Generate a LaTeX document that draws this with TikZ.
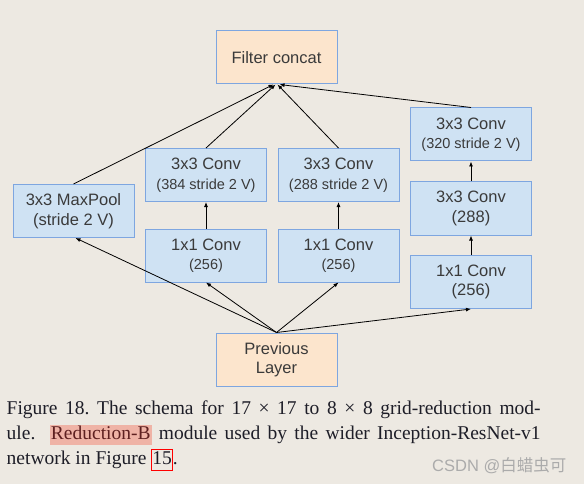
\documentclass[tikz,border=0pt]{standalone}
\usepackage{fontspec}
\setmainfont{Liberation Serif}
\newfontfamily\arialf{Liberation Sans}
\newfontfamily\cjkf{Noto Sans CJK SC}
\usetikzlibrary{arrows.meta}
\definecolor{bg}{HTML}{EDE9E2}
\definecolor{bluefill}{HTML}{CFE2F3}
\definecolor{blueline}{HTML}{7EA6E0}
\definecolor{orfill}{HTML}{FCE5CD}
\definecolor{boxtext}{HTML}{3A3A3A}
\definecolor{captext}{HTML}{1E1E28}
\definecolor{hl}{HTML}{EFB3A6}
\definecolor{hltext}{HTML}{5E2020}
\definecolor{wm}{HTML}{ABABAB}
\frenchspacing
\newcommand\subf{\fontsize{14.5}{17.5}\selectfont}
\newcommand\hlbox[1]{{\setlength\fboxsep{1pt}\colorbox{hl}{\textcolor{hltext}{\vphantom{y}#1}}}}
\newcommand\boxnum[1]{{\setlength\fboxsep{0pt}\setlength\fboxrule{1pt}\fcolorbox{red}{bg}{\rule[-6.3pt]{0pt}{20pt}#1}}}
\begin{document}
\begin{tikzpicture}[x=1pt,y=-1pt,
  box/.style={draw=blueline, line width=1pt, fill=bluefill, minimum width=121pt,
    minimum height=53pt, inner sep=0pt, align=center, text=boxtext,
    font=\arialf\fontsize{16.5}{19.5}\selectfont},
  obox/.style={box, fill=orfill},
  arr/.style={-{Latex[length=5pt,width=4pt]}, line width=0.8pt, black},
  capline/.style={anchor=base west, inner sep=0pt, text=captext,
    font=\fontsize{19.5}{24.8}\selectfont}
]
\fill[bg] (0,0) rectangle (584,484);
\useasboundingbox (0,0) rectangle (584,484);

\node[obox] (fc) at (276.5,57.5) {Filter concat};
\node[box] (mp) at (73.5,211) {3x3 MaxPool\\(stride 2 V)};
\node[box] (c384) at (206,175) {3x3 Conv\\\subf (384 stride 2 V)};
\node[box] (c1l) at (206,255.5) {1x1 Conv\\\subf (256)};
\node[box] (c288) at (338.5,175) {3x3 Conv\\\subf (288 stride 2 V)};
\node[box] (c1m) at (338.5,255.5) {1x1 Conv\\\subf (256)};
\node[box] (r3) at (471,134.5) {3x3 Conv\\\subf (320 stride 2 V)};
\node[box] (r2) at (471,208.5) {3x3 Conv\\(288)};
\node[box] (r1) at (471,282) {1x1 Conv\\(256)};
\node[obox] (prev) at (276.5,359.5) {Previous\\Layer};

\draw[arr] (mp.north) -- ([xshift=-3pt]fc.south);
\draw[arr] (c384.north) -- ([xshift=-1pt]fc.south);
\draw[arr] (c288.north) -- ([xshift=1pt]fc.south);
\draw[arr] (r3.north) -- ([xshift=3pt]fc.south);
\draw[arr] (c1l.north) -- (c384.south);
\draw[arr] (c1m.north) -- (c288.south);
\draw[arr] (r1.north) -- (r2.south);
\draw[arr] (r2.north) -- (r3.south);
\draw[arr] (prev.north) -- ([xshift=2pt]mp.south);
\draw[arr] (prev.north) -- (c1l.south);
\draw[arr] (prev.north) -- (c1m.south);
\draw[arr] (prev.north) -- (r1.south);

\node[capline] (cap1) at (6.5,414.3) {\hbox to 534pt{Figure 18. The schema for 17 × 17 to 8 × 8 grid-reduction mod-}};
\node[capline] (cap2) at (6.5,439.7) {\hbox to 534pt{ule.\ \ \hlbox{Reduction-B} module used by the wider Inception-ResNet-v1}};
\node[capline] (cap3) at (6.5,464) {network in Figure \boxnum{15}.};
\node[anchor=base west, inner sep=0pt, text=wm, font=\arialf\fontsize{16.5}{18}\selectfont] (wmk) at (432,471.5) {CSDN @{\cjkf 白蜡虫可}};
\end{tikzpicture}
\end{document}
